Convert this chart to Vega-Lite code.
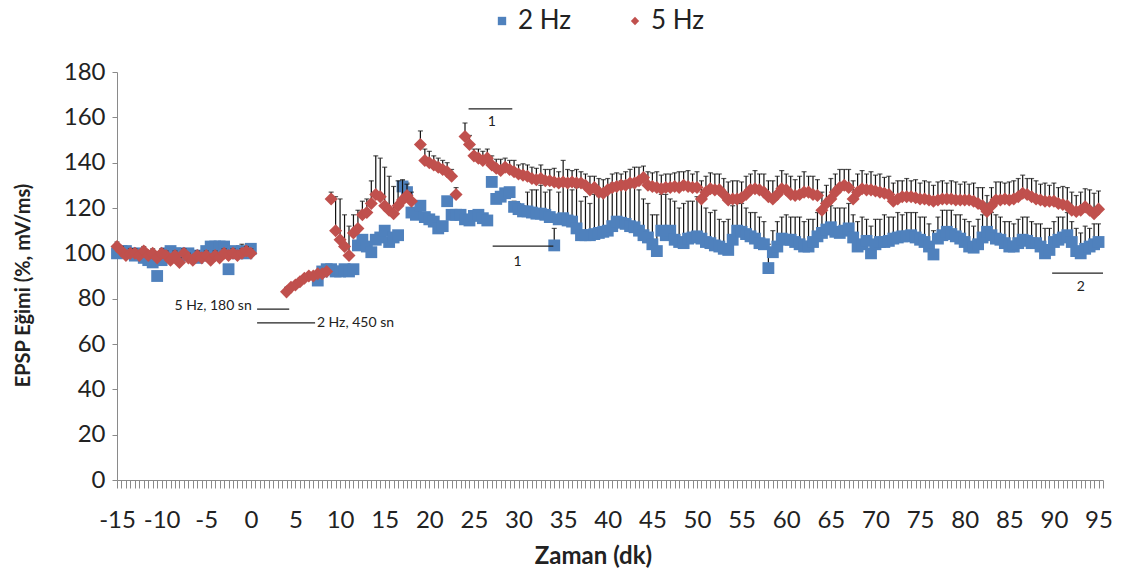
{
"$schema": "https://vega.github.io/schema/vega-lite/v6.json",
"width": 986, "height": 408,
"autosize": {"type": "none"},
"padding": {"left": 117, "top": 72, "right": 24, "bottom": 97},
"background": "white",
"config": {"view": {"stroke": null}, "font": "Lato", "text": {"font": "Lato"}},
"datasets": {
"main": [
{"t":-15,"a":100,"ah":104,"b":103,"bh":105},{"t":-14.5,"a":101,"ah":103,"b":101,"bh":103},{"t":-14,"a":101,"ah":103,"b":99,"bh":101},{"t":-13.5,"a":100,"ah":102,"b":100,"bh":102},{"t":-13,"a":99,"ah":101,"b":100,"bh":102},{"t":-12.5,"a":100,"ah":102,"b":99,"bh":101},{"t":-12,"a":98,"ah":100,"b":101,"bh":103},{"t":-11.5,"a":97,"ah":99,"b":99,"bh":101},{"t":-11,"a":96,"ah":98,"b":100,"bh":102},{"t":-10.5,"a":90,"ah":92,"b":98,"bh":100},{"t":-10,"a":97,"ah":99,"b":100,"bh":102},{"t":-9.5,"a":100,"ah":102,"b":99,"bh":101},{"t":-9,"a":101,"ah":103,"b":97,"bh":99},{"t":-8.5,"a":100,"ah":102,"b":99,"bh":101},{"t":-8,"a":100,"ah":102,"b":96,"bh":98},{"t":-7.5,"a":99,"ah":101,"b":100,"bh":102},{"t":-7,"a":100,"ah":102,"b":98,"bh":100},{"t":-6.5,"a":99,"ah":101,"b":97,"bh":99},{"t":-6,"a":98,"ah":100,"b":99,"bh":101},{"t":-5.5,"a":99,"ah":101,"b":98,"bh":100},{"t":-5,"a":101,"ah":103,"b":99,"bh":101},{"t":-4.5,"a":103,"ah":105,"b":97,"bh":99},{"t":-4,"a":103,"ah":105,"b":99,"bh":101},{"t":-3.5,"a":103,"ah":105,"b":98,"bh":100},{"t":-3,"a":103,"ah":105,"b":100,"bh":102},{"t":-2.5,"a":93,"ah":95,"b":99,"bh":101},{"t":-2,"a":101,"ah":103,"b":100,"bh":102},{"t":-1.5,"a":100,"ah":103,"b":99,"bh":101},{"t":-1,"a":101,"ah":104,"b":100,"bh":102},{"t":-0.5,"a":100,"ah":103,"b":101,"bh":103},{"t":0,"a":102,"ah":104,"b":100,"bh":102},
{"t":4,"b":83,"bh":85},{"t":4.5,"b":85,"bh":86},{"t":5,"b":86,"bh":87},{"t":5.5,"b":87.5,"bh":89},{"t":6,"b":89,"bh":90},{"t":6.5,"b":90,"bh":91},{"t":7,"b":90,"bh":91},
{"t":7.5,"a":88,"ah":89,"b":91,"bh":92},{"t":8,"a":92,"ah":93,"b":91,"bh":92},{"t":8.5,"a":93,"ah":94,"b":92,"bh":93},{"t":9,"a":93,"ah":94,"b":124,"bh":127},{"t":9.5,"a":92,"ah":93,"b":110,"bh":125},{"t":10,"a":92,"ah":93,"b":106,"bh":124},{"t":10.5,"a":93,"ah":94,"b":103,"bh":117},{"t":11,"a":92,"ah":93,"b":99,"bh":112},{"t":11.5,"a":93,"ah":94,"b":109,"bh":117},{"t":12,"a":103.5,"ah":105,"b":111,"bh":119},{"t":12.5,"a":106,"ah":107,"b":117,"bh":123},{"t":13,"a":103,"ah":104,"b":118,"bh":124},{"t":13.5,"a":100.5,"ah":102,"b":122,"bh":132},{"t":14,"a":106,"ah":107,"b":126,"bh":143},{"t":14.5,"a":107,"ah":108,"b":125,"bh":142},{"t":15,"a":110,"ah":111,"b":121,"bh":138},{"t":15.5,"a":105,"ah":106,"b":119,"bh":134},{"t":16,"a":107,"ah":108,"b":117.5,"bh":129.5},{"t":16.5,"a":108,"ah":109,"b":121,"bh":132},{"t":17,"a":129.5,"ah":132,"b":123.5,"bh":132.5},{"t":17.5,"a":127,"ah":131,"b":125.5,"bh":130.5},{"t":18,"a":118,"ah":119,"b":123,"bh":127},{"t":18.5,"a":117,"ah":118},{"t":19,"a":121,"ah":122,"b":148,"bh":154},{"t":19.5,"a":116,"ah":117,"b":141,"bh":146},{"t":20,"a":115,"ah":116,"b":140,"bh":145},{"t":20.5,"a":114,"ah":115,"b":139,"bh":143},{"t":21,"a":111,"ah":112,"b":138,"bh":142},{"t":21.5,"a":112,"ah":113,"b":137,"bh":141},{"t":22,"a":123,"ah":124,"b":136,"bh":140},{"t":22.5,"a":117,"ah":118,"b":134,"bh":137},{"t":23,"a":117,"ah":118,"b":126,"bh":129},{"t":23.5,"a":117,"ah":118},{"t":24,"a":115,"ah":116,"b":151.5,"bh":157.5},{"t":24.5,"a":114.5,"ah":116,"b":148,"bh":152},{"t":25,"a":116.5,"ah":118,"b":143,"bh":146},{"t":25.5,"a":117,"ah":118,"b":142,"bh":146},{"t":26,"a":115.5,"ah":117,"b":141,"bh":145},{"t":26.5,"a":114.5,"ah":116,"b":142,"bh":146},{"t":27,"a":131.5,"ah":133,"b":139,"bh":143},{"t":27.5,"a":124,"ah":126,"b":137.5,"bh":141.5},{"t":28,"a":125,"ah":127,"b":136.5,"bh":141.5},{"t":28.5,"a":126.5,"ah":128,"b":138,"bh":142},{"t":29,"a":127,"ah":129,"b":137,"bh":141},{"t":29.5,"a":120.5,"ah":123,"b":136,"bh":141},{"t":30,"a":119.5,"ah":122,"b":135,"bh":139},{"t":30.5,"a":118.5,"ah":121,"b":134.5,"bh":139.5},{"t":31,"a":118.5,"ah":127,"b":134,"bh":139},{"t":31.5,"a":118,"ah":128,"b":133,"bh":138},{"t":32,"a":117.5,"ah":128,"b":132.5,"bh":137.5},{"t":32.5,"a":117.5,"ah":130,"b":133,"bh":139},{"t":33,"a":117,"ah":127,"b":132,"bh":137},{"t":33.5,"a":116,"ah":128,"b":132,"bh":137},{"t":34,"a":103.5,"ah":111,"b":131.5,"bh":137.5},{"t":34.5,"a":115,"ah":127,"b":131,"bh":136},{"t":35,"a":115.5,"ah":131,"b":131.5,"bh":141},{"t":35.5,"a":114.5,"ah":131,"b":131,"bh":137},{"t":36,"a":114,"ah":128,"b":131.5,"bh":136.5},{"t":36.5,"a":111,"ah":129,"b":131,"bh":137},{"t":37,"a":108,"ah":123,"b":131,"bh":136},{"t":37.5,"a":108,"ah":125,"b":130,"bh":135},{"t":38,"a":108,"ah":122,"b":128,"bh":134},{"t":38.5,"a":108.5,"ah":126,"b":129,"bh":134},{"t":39,"a":109,"ah":125,"b":127,"bh":133},{"t":39.5,"a":109.5,"ah":128,"b":126.5,"bh":132.5},{"t":40,"a":110,"ah":127,"b":128,"bh":133},{"t":40.5,"a":112,"ah":131,"b":129,"bh":135},{"t":41,"a":114,"ah":130,"b":129.5,"bh":135.5},{"t":41.5,"a":113.5,"ah":132,"b":130,"bh":135},{"t":42,"a":113,"ah":131,"b":130,"bh":136},{"t":42.5,"a":112,"ah":129,"b":131,"bh":137},{"t":43,"a":111.5,"ah":130,"b":131,"bh":138},{"t":43.5,"a":110,"ah":128,"b":132,"bh":138},{"t":44,"a":108,"ah":124,"b":133.5,"bh":138.5},{"t":44.5,"a":107,"ah":122,"b":130,"bh":136},{"t":45,"a":104,"ah":117,"b":129.5,"bh":135.5},{"t":45.5,"a":101,"ah":117,"b":129,"bh":136},{"t":46,"a":110,"ah":126,"b":128.5,"bh":134.5},{"t":46.5,"a":108,"ah":126,"b":129,"bh":135},{"t":47,"a":110,"ah":124,"b":129,"bh":135},{"t":47.5,"a":106,"ah":123,"b":129.5,"bh":135.5},{"t":48,"a":105,"ah":120,"b":129,"bh":136},{"t":48.5,"a":104.5,"ah":122,"b":130,"bh":136},{"t":49,"a":106.5,"ah":123,"b":129.5,"bh":136.5},{"t":49.5,"a":107,"ah":123,"b":129,"bh":135},{"t":50,"a":107.5,"ah":125,"b":129,"bh":136},{"t":50.5,"a":106.5,"ah":123,"b":124,"bh":132},{"t":51,"a":105,"ah":120,"b":127,"bh":134},{"t":51.5,"a":104.5,"ah":118,"b":128.5,"bh":135.5},{"t":52,"a":103.5,"ah":119,"b":128,"bh":135},{"t":52.5,"a":103,"ah":115,"b":128,"bh":135},{"t":53,"a":102,"ah":114,"b":126,"bh":133},{"t":53.5,"a":101.5,"ah":115,"b":123.5,"bh":131.5},{"t":54,"a":106,"ah":121,"b":124,"bh":132},{"t":54.5,"a":110,"ah":122,"b":124,"bh":132},{"t":55,"a":109.5,"ah":122,"b":124.5,"bh":131.5},{"t":55.5,"a":108.5,"ah":120,"b":126,"bh":134},{"t":56,"a":107.5,"ah":118,"b":128,"bh":135},{"t":56.5,"a":106.5,"ah":118,"b":128.5,"bh":136.5},{"t":57,"a":104.5,"ah":116,"b":128,"bh":135},{"t":57.5,"a":104,"ah":114,"b":127,"bh":135},{"t":58,"a":93.5,"ah":104,"b":125,"bh":132},{"t":58.5,"a":100.5,"ah":110,"b":124,"bh":132},{"t":59,"a":103,"ah":114,"b":126,"bh":134},{"t":59.5,"a":106.5,"ah":116,"b":128.5,"bh":136.5},{"t":60,"a":106,"ah":117,"b":128,"bh":135},{"t":60.5,"a":106,"ah":116,"b":126,"bh":134},{"t":61,"a":105,"ah":116,"b":125.5,"bh":132.5},{"t":61.5,"a":104,"ah":116,"b":126,"bh":134},{"t":62,"a":103,"ah":114,"b":127,"bh":136},{"t":62.5,"a":103,"ah":115,"b":127,"bh":134},{"t":63,"a":105,"ah":115,"b":126,"bh":134},{"t":63.5,"a":107.5,"ah":118,"b":125.5,"bh":132.5},{"t":64,"a":109,"ah":119,"b":119,"bh":127},{"t":64.5,"a":110.5,"ah":121,"b":122,"bh":130},{"t":65,"a":111.5,"ah":121,"b":124,"bh":133},{"t":65.5,"a":109.5,"ah":120,"b":127,"bh":135},{"t":66,"a":109,"ah":120,"b":129,"bh":137},{"t":66.5,"a":110,"ah":120,"b":130,"bh":137},{"t":67,"a":111,"ah":122,"b":129,"bh":137},{"t":67.5,"a":107,"ah":117,"b":124,"bh":132},{"t":68,"a":103,"ah":114,"b":127,"bh":135},{"t":68.5,"a":104,"ah":116,"b":128.5,"bh":136.5},{"t":69,"a":105.5,"ah":115,"b":128,"bh":135},{"t":69.5,"a":100,"ah":112,"b":128,"bh":136},{"t":70,"a":104,"ah":115,"b":127.5,"bh":134.5},{"t":70.5,"a":105,"ah":115,"b":127,"bh":135},{"t":71,"a":105,"ah":117,"b":126.5,"bh":133.5},{"t":71.5,"a":105.5,"ah":116,"b":126,"bh":134},{"t":72,"a":106.5,"ah":116,"b":123,"bh":131},{"t":72.5,"a":107,"ah":118,"b":124,"bh":132},{"t":73,"a":107.5,"ah":117,"b":125,"bh":132},{"t":73.5,"a":107.5,"ah":118,"b":125,"bh":133},{"t":74,"a":108,"ah":118,"b":125,"bh":132},{"t":74.5,"a":107,"ah":118,"b":124.5,"bh":132.5},{"t":75,"a":106,"ah":116,"b":124,"bh":131},{"t":75.5,"a":105,"ah":116,"b":124,"bh":132},{"t":76,"a":103,"ah":113,"b":123.5,"bh":131.5},{"t":76.5,"a":99.5,"ah":110,"b":123,"bh":130},{"t":77,"a":106.5,"ah":116,"b":123.5,"bh":131.5},{"t":77.5,"a":108,"ah":119,"b":124,"bh":132},{"t":78,"a":109.5,"ah":119,"b":124,"bh":131},{"t":78.5,"a":108.5,"ah":119,"b":124,"bh":132},{"t":79,"a":107.5,"ah":117,"b":123.5,"bh":131.5},{"t":79.5,"a":106.5,"ah":117,"b":123.5,"bh":130.5},{"t":80,"a":105,"ah":115,"b":123.5,"bh":131.5},{"t":80.5,"a":103,"ah":114,"b":123.5,"bh":130.5},{"t":81,"a":102.5,"ah":112,"b":123,"bh":131},{"t":81.5,"a":104,"ah":115,"b":122,"bh":129},{"t":82,"a":107,"ah":117,"b":121,"bh":129},{"t":82.5,"a":109.5,"ah":118,"b":118.5,"bh":125.5},{"t":83,"a":108,"ah":118,"b":121,"bh":129},{"t":83.5,"a":106.5,"ah":117,"b":123.5,"bh":131.5},{"t":84,"a":106,"ah":116,"b":123.5,"bh":131.5},{"t":84.5,"a":104.5,"ah":114,"b":124,"bh":131},{"t":85,"a":103,"ah":114,"b":123.5,"bh":131.5},{"t":85.5,"a":103,"ah":113,"b":124,"bh":132},{"t":86,"a":104.5,"ah":115,"b":125,"bh":133},{"t":86.5,"a":106,"ah":116,"b":126.5,"bh":134.5},{"t":87,"a":105.5,"ah":116,"b":126,"bh":133},{"t":87.5,"a":104.5,"ah":114,"b":125,"bh":133},{"t":88,"a":104.5,"ah":113,"b":124,"bh":132},{"t":88.5,"a":103,"ah":113,"b":123.5,"bh":130.5},{"t":89,"a":100,"ah":111,"b":123,"bh":131},{"t":89.5,"a":101.5,"ah":111,"b":123,"bh":130},{"t":90,"a":105,"ah":114,"b":123,"bh":131},{"t":90.5,"a":106,"ah":116,"b":122,"bh":129},{"t":91,"a":107,"ah":116,"b":121.5,"bh":129.5},{"t":91.5,"a":108,"ah":118,"b":121,"bh":129},{"t":92,"a":105,"ah":114,"b":119,"bh":127},{"t":92.5,"a":101,"ah":111,"b":118.5,"bh":125.5},{"t":93,"a":100,"ah":109,"b":119,"bh":127},{"t":93.5,"a":102,"ah":112,"b":120.5,"bh":128.5},{"t":94,"a":103,"ah":111,"b":119,"bh":128},{"t":94.5,"a":104,"ah":113,"b":117.5,"bh":126.5},{"t":95,"a":105,"ah":113,"b":119.5,"bh":127.5}
],
"lines": [
{"x1":0.7,"x2":4.3,"y":75.4},{"x1":0.7,"x2":7.2,"y":69.3},{"x1":24.4,"x2":29.3,"y":163.7},{"x1":27.1,"x2":33.9,"y":103.2},{"x1":89.8,"x2":95.5,"y":91.3}
]
},
"layer": [
{
"data": {"name": "main"},
"transform": [{"filter": "isValid(datum.a)"}],
"mark": {"type": "rule", "color": "#111", "strokeWidth": 1.2},
"encoding": {
"x": {"field": "t", "type": "quantitative", "scale": {"domain": [-15, 95.5], "nice": false, "zero": false},
"axis": {"tickCount": 220, "labelExpr": "datum.value % 5 === 0 ? '' + datum.value : ''", "labelOverlap": false, "labelFlush": false, "labelBound": false, "tickSize": 8, "tickColor": "#8a8a8a", "domainColor": "#8a8a8a", "labelPadding": 20, "labelFontSize": 24, "labelColor": "#222", "grid": false, "title": "Zaman (dk)", "titleFontSize": 24, "titleFontWeight": "bold", "titleColor": "#222", "titlePadding": 12, "titleX": 476}},
"y": {"field": "a", "type": "quantitative", "scale": {"domain": [0, 180], "nice": false},
"axis": {"values": [0,20,40,60,80,100,120,140,160,180], "tickSize": 5, "tickColor": "#8a8a8a", "domainColor": "#8a8a8a", "labelPadding": 7, "labelFontSize": 24, "labelColor": "#222", "grid": false, "title": "EPSP Eğimi (%, mV/ms)", "titleFontSize": 20, "titleFontWeight": "bold", "titleColor": "#222", "titlePadding": 30, "titleY": 213}},
"y2": {"field": "ah"}
}
},
{
"data": {"name": "main"},
"transform": [{"filter": "isValid(datum.a)"}],
"mark": {"type": "tick", "orient": "horizontal", "color": "#111", "size": 5, "thickness": 1.2},
"encoding": {"x": {"field": "t", "type": "quantitative"}, "y": {"field": "ah", "type": "quantitative"}}
},
{
"data": {"name": "main"},
"transform": [{"filter": "isValid(datum.a)"}],
"mark": {"type": "point", "filled": true, "opacity": 1, "size": 140},
"encoding": {
"x": {"field": "t", "type": "quantitative"},
"y": {"field": "a", "type": "quantitative"},
"color": {"datum": "2 Hz", "scale": {"domain": ["2 Hz", "5 Hz"], "range": ["#4F81BD", "#C0504D"]},
"legend": {"title": null, "orient": "none", "direction": "horizontal", "legendX": 372, "legendY": -64, "labelFontSize": 26, "labelColor": "#222", "symbolSize": 70, "columnPadding": 50, "labelOffset": 3}},
"shape": {"datum": "2 Hz", "scale": {"domain": ["2 Hz", "5 Hz"], "range": ["square", "diamond"]}, "legend": {"title": null}}
}
},
{
"data": {"name": "main"},
"transform": [{"filter": "isValid(datum.b)"}],
"mark": {"type": "rule", "color": "#111", "strokeWidth": 1.2},
"encoding": {"x": {"field": "t", "type": "quantitative"}, "y": {"field": "b", "type": "quantitative"}, "y2": {"field": "bh"}}
},
{
"data": {"name": "main"},
"transform": [{"filter": "isValid(datum.b)"}],
"mark": {"type": "tick", "orient": "horizontal", "color": "#111", "size": 5, "thickness": 1.2},
"encoding": {"x": {"field": "t", "type": "quantitative"}, "y": {"field": "bh", "type": "quantitative"}}
},
{
"data": {"name": "main"},
"transform": [{"filter": "isValid(datum.b)"}],
"mark": {"type": "point", "filled": true, "opacity": 1, "size": 170},
"encoding": {
"x": {"field": "t", "type": "quantitative"},
"y": {"field": "b", "type": "quantitative"},
"color": {"datum": "5 Hz"},
"shape": {"datum": "5 Hz"}
}
},
{
"data": {"name": "lines"},
"mark": {"type": "rule", "color": "#222", "strokeWidth": 1.3},
"encoding": {"x": {"field": "x1", "type": "quantitative"}, "x2": {"field": "x2"}, "y": {"field": "y", "type": "quantitative"}}
},
{
"data": {"values": [{"x": 0.1, "y": 76.7, "txt": "5 Hz, 180 sn"}]},
"mark": {"type": "text", "align": "right", "baseline": "middle", "fontSize": 14, "color": "#222"},
"encoding": {"x": {"field": "x", "type": "quantitative"}, "y": {"field": "y", "type": "quantitative"}, "text": {"field": "txt"}}
},
{
"data": {"values": [{"x": 7.4, "y": 69.3, "txt": "2 Hz, 450 sn"}]},
"mark": {"type": "text", "align": "left", "baseline": "middle", "fontSize": 14, "color": "#222"},
"encoding": {"x": {"field": "x", "type": "quantitative"}, "y": {"field": "y", "type": "quantitative"}, "text": {"field": "txt"}}
},
{
"data": {"values": [{"x": 27.0, "y": 158, "txt": "1"}, {"x": 29.9, "y": 96.2, "txt": "1"}, {"x": 93.0, "y": 85, "txt": "2"}]},
"mark": {"type": "text", "align": "center", "baseline": "middle", "fontSize": 14, "color": "#222"},
"encoding": {"x": {"field": "x", "type": "quantitative"}, "y": {"field": "y", "type": "quantitative"}, "text": {"field": "txt"}}
}
]
}
